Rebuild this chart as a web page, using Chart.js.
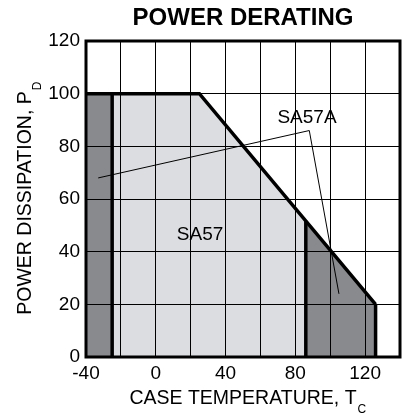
<!DOCTYPE html>
<html>
<head>
<meta charset="utf-8">
<script src="https://cdn.jsdelivr.net/npm/chart.js@4/dist/chart.umd.min.js"></script>
<style>
  html, body { margin: 0; padding: 0; background: #fff; }
  #wrap { width: 407px; height: 416px; }
</style>
</head>
<body>
<div id="wrap"><canvas id="c" width="407" height="416"></canvas></div>
<script>
// ---- data ----
const chartTitle = 'POWER DERATING';
const xTitle = 'CASE TEMPERATURE, T';
const xTitleSub = 'C';
const yTitle = 'POWER DISSIPATION, P';
const yTitleSub = 'D';

const xTickLabels = [-40, 0, 40, 80, 120];
const yTickLabels = [0, 20, 40, 60, 80, 100, 120];

// derating curve (thick outline)
const curveX = [-40, 25, 126];
const curveY = [100, 100, 20];

// SA57A low-temperature region (dark)
const sa57aLowX = [-40, -25];
const sa57aLowY = [100, 100];

// SA57 region (light)
const sa57X = [-25, 25, 86];
const sa57Y = [100, 100, 51.7];

// SA57A high-temperature region (dark)
const sa57aHighX = [86, 126];
const sa57aHighY = [51.7, 20];

// thick vertical boundaries
const boundaryX = [-25, 86, 126];
const boundaryTop = [100, 51.7, 20];

// SA57A pointer line
const pointerX = [-33, 88, 105];
const pointerY = [68, 86, 24];

// label positions
const labelText = ['SA57A', 'SA57'];
const labelX = [86.7, 25.4];
const labelY = [91, 46.3];

// ---- helpers ----
const pts = (xs, ys) => xs.map((x, i) => ({ x: x, y: ys[i] }));
const DARK = '#898a8d';
const LIGHT = '#dcdde0';
const FONT = '"Liberation Sans", Arial, sans-serif';

const datasets = [
  { data: pts(sa57aLowX, sa57aLowY), fill: 'origin', backgroundColor: DARK, borderWidth: 0, pointRadius: 0, order: 10 },
  { data: pts(sa57X, sa57Y), fill: 'origin', backgroundColor: LIGHT, borderWidth: 0, pointRadius: 0, order: 10 },
  { data: pts(sa57aHighX, sa57aHighY), fill: 'origin', backgroundColor: DARK, borderWidth: 0, pointRadius: 0, order: 10 },
  { data: pts(pointerX, pointerY), borderColor: '#000', borderWidth: 1, pointRadius: 0, fill: false, order: 2 },
  { data: pts(curveX, curveY), borderColor: '#000', borderWidth: 3.5, pointRadius: 0, fill: false, order: 1, borderJoinStyle: 'miter' }
];
boundaryX.forEach((bx, i) => {
  datasets.push({ data: [{ x: bx, y: 0 }, { x: bx, y: boundaryTop[i] }], borderColor: '#000', borderWidth: 3.5, pointRadius: 0, fill: false, order: 1 });
});

const textPlugin = {
  id: 'texts',
  afterDatasetsDraw(chart) {
    const { ctx, scales } = chart;
    ctx.save();
    ctx.fillStyle = '#000';
    ctx.font = '19px ' + FONT;
    ctx.textAlign = 'center';
    ctx.textBaseline = 'middle';
    labelText.forEach((t, i) => {
      ctx.fillText(t, scales.x.getPixelForValue(labelX[i]), scales.y.getPixelForValue(labelY[i]));
    });
    ctx.restore();
  },
  afterDraw(chart) {
    const { ctx, chartArea: a } = chart;
    ctx.save();
    // frame
    ctx.strokeStyle = '#000';
    ctx.lineWidth = 3;
    ctx.strokeRect(a.left, a.top, a.right - a.left, a.bottom - a.top);
    // title
    ctx.fillStyle = '#000';
    ctx.font = 'bold 24px ' + FONT;
    ctx.textAlign = 'center';
    ctx.textBaseline = 'alphabetic';
    ctx.fillText(chartTitle, (a.left + a.right) / 2, 25);
    // x title with subscript
    ctx.font = '19.5px ' + FONT;
    ctx.textAlign = 'left';
    const wx = ctx.measureText(xTitle).width;
    const x0 = (a.left + a.right) / 2 - wx / 2;
    ctx.fillText(xTitle, x0, 404);
    ctx.font = '12px ' + FONT;
    ctx.fillText(xTitleSub, x0 + wx + 1, 413);
    // y title with subscript
    ctx.font = '19.5px ' + FONT;
    const wy = ctx.measureText(yTitle).width;
    ctx.translate(31, 203 + wy / 2);
    ctx.rotate(-Math.PI / 2);
    ctx.fillText(yTitle, 0, 0);
    ctx.font = '12px ' + FONT;
    ctx.fillText(yTitleSub, wy + 1, 10);
    ctx.restore();
  }
};

new Chart(document.getElementById('c'), {
  type: 'line',
  data: { datasets: datasets },
  options: {
    responsive: false,
    animation: false,
    layout: { padding: { top: 41, right: 7, left: 0, bottom: 0 } },
    plugins: { legend: { display: false }, tooltip: { enabled: false }, title: { display: false } },
    scales: {
      x: {
        type: 'linear', min: -40, max: 140, z: 1,
        border: { display: false },
        grid: { color: '#000', lineWidth: 1, drawTicks: false, z: 1 },
        ticks: {
          stepSize: 20, padding: 5, color: '#000', maxRotation: 0, autoSkip: false,
          font: { family: FONT, size: 19 },
          callback: v => (xTickLabels.includes(v) ? String(v) : '')
        },
        afterFit: s => { s.height = 59; }
      },
      y: {
        type: 'linear', min: 0, max: 120, z: 1,
        border: { display: false },
        grid: { color: '#000', lineWidth: 1, drawTicks: false, z: 1 },
        ticks: {
          stepSize: 20, padding: 6, color: '#000',
          font: { family: FONT, size: 19 },
          callback: v => (yTickLabels.includes(v) ? String(v) : '')
        },
        afterFit: s => { s.width = 86; }
      }
    }
  },
  plugins: [textPlugin]
});
</script>
</body>
</html>
